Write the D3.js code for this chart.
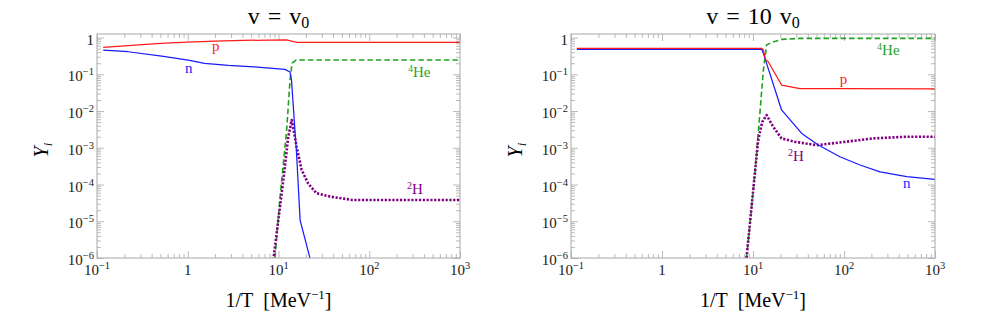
<!DOCTYPE html>
<html><head><meta charset="utf-8">
<script src="https://cdn.jsdelivr.net/npm/d3@7"></script>
<style>
body{margin:0;background:#fff}
svg{display:block}
text{font-family:"Liberation Serif","Times New Roman",Times,serif}
</style>
</head><body>
<svg id="chart" width="981" height="314" font-family="Liberation Serif, Times New Roman, serif"></svg>
<script>
// ---------------- DATA ----------------
const xTickValues = [0.1, 1, 10, 100, 1000];
const xTickLabels = [["10", "−1"], ["1", ""], ["10", "1"], ["10", "2"], ["10", "3"]];
const yTickValues = [1, 1e-1, 1e-2, 1e-3, 1e-4, 1e-5, 1e-6];
const yTickLabels = [["1", ""], ["10", "−1"], ["10", "−2"], ["10", "−3"], ["10", "−4"], ["10", "−5"], ["10", "−6"]];
const panelTitles = [["v = v", "0"], ["v = 10 v", "0"]];
const seriesNames = ["p", "n", "4He", "2H"];

// left panel: v = v0   ([1/T, Y])
const leftP  = [[0.117,0.54],[0.22,0.60],[0.5,0.69],[1,0.75],[2,0.80],[4,0.835],[8,0.855],[12.3,0.86],[14.6,0.78],[15.8,0.745],[1000,0.745]];
const leftN  = [[0.117,0.457],[0.221,0.411],[0.516,0.314],[1.01,0.244],[1.53,0.199],[2.8,0.175],[5.4,0.160],[11.8,0.136],[13.4,0.115],[13.9,0.07],[15.8,7.2e-4],[17.3,1.08e-5],[22.2,1.0e-6],[25,2e-7]];
const leftHe = [[9.15,1e-6],[10.4,4.6e-5],[12.3,3.0e-3],[13.4,0.07],[14.1,0.2],[15.6,0.244],[1000,0.244]];
const leftH  = [[8.77,8.9e-7],[11.3,1.32e-4],[12.8,1.96e-3],[14.0,5.7e-3],[15.85,1.05e-3],[18.0,2.5e-4],[21.2,1.07e-4],[26.2,5.8e-5],[36.9,4.7e-5],[65,3.8e-5],[1000,3.8e-5]];

// right panel: v = 10 v0
const rightP  = [[0.116,0.508],[12.5,0.508],[13.0,0.457],[13.8,0.244],[14.7,0.22],[20.6,0.051],[32.8,0.041],[94,0.041],[1000,0.040]];
const rightN  = [[0.116,0.477],[12.5,0.477],[13.0,0.372],[14.1,0.198],[20.6,0.0107],[34.3,2.46e-3],[52.2,1.19e-3],[90,5.7e-4],[150,3.4e-4],[249,2.2e-4],[489,1.63e-4],[1000,1.38e-4]];
const rightHe = [[8.49,1e-6],[10.4,1.6e-4],[11.9,8.7e-3],[13.0,0.13],[14.1,0.625],[16.0,0.74],[20.6,0.89],[32.8,0.95],[1000,0.95]];
const rightH  = [[8.49,1e-6],[10.3,1.3e-4],[11.4,1.6e-3],[12.6,5.0e-3],[14.1,7.8e-3],[16.7,3.7e-3],[20.6,1.8e-3],[29,1.45e-3],[50,1.18e-3],[103,1.45e-3],[209,1.8e-3],[490,2.0e-3],[1000,2.0e-3]];

// label anchor positions in data space ([1/T, Y]) for p, n, 4He, 2H
const leftLabelPos  = [[1.85,0.43],[0.93,0.108],[267,0.084],[261,5.5e-5]];
const rightLabelPos = [[90,0.054],[445,8.0e-5],[231,0.334],[24.3,4.4e-4]];

// ---------------- STYLE / LAYOUT ----------------
const colors = {p:"#ff1a1a", n:"#1a1aff", "4He":"#1fa31f", "2H":"#800080"};
const panels = [
  {x0:97, x1:460, series:[leftHe, leftH, leftN, leftP], labels:leftLabelPos, title:panelTitles[0]},
  {x0:571, x1:935, series:[rightHe, rightH, rightN, rightP], labels:rightLabelPos, title:panelTitles[1]}
];
const order = ["4He","2H","n","p"];
const yTop = 34, yBot = 258;
const frameColor = "#a8a8a8";
const FONT = "Liberation Serif, Times New Roman, serif";

const svg = d3.select("#chart");

panels.forEach((pn, i) => {
  const x = d3.scaleLog().domain([0.1, 1000]).range([pn.x0, pn.x1]);
  const y = d3.scaleLog().domain([1e-6, 1.25]).range([yBot, yTop]);
  const g = svg.append("g").attr("font-family", FONT);

  const xMinor = [];
  [0.1, 1, 10, 100].forEach(d => { for (let k = 2; k <= 9; k++) xMinor.push(k * d); });
  const yMinor = [];
  [1e-6, 1e-5, 1e-4, 1e-3, 1e-2, 1e-1].forEach(d => { for (let k = 2; k <= 9; k++) yMinor.push(k * d); });

  const addAxis = (axis, tr) => {
    const a = g.append("g").attr("transform", tr).call(axis);
    a.select(".domain").remove();
    a.selectAll("line").attr("stroke", frameColor).attr("stroke-width", 0.8);
    a.selectAll("text").remove();
  };
  addAxis(d3.axisBottom(x).tickValues(xTickValues).tickSize(-7).tickSizeOuter(0), `translate(0,${yBot})`);
  addAxis(d3.axisBottom(x).tickValues(xMinor).tickSize(-4).tickSizeOuter(0), `translate(0,${yBot})`);
  addAxis(d3.axisTop(x).tickValues(xTickValues).tickSize(-7).tickSizeOuter(0), `translate(0,${yTop})`);
  addAxis(d3.axisTop(x).tickValues(xMinor).tickSize(-4).tickSizeOuter(0), `translate(0,${yTop})`);
  addAxis(d3.axisLeft(y).tickValues(yTickValues).tickSize(-7).tickSizeOuter(0), `translate(${pn.x0},0)`);
  addAxis(d3.axisLeft(y).tickValues(yMinor).tickSize(-4).tickSizeOuter(0), `translate(${pn.x0},0)`);
  addAxis(d3.axisRight(y).tickValues(yTickValues).tickSize(-7).tickSizeOuter(0), `translate(${pn.x1},0)`);
  addAxis(d3.axisRight(y).tickValues(yMinor).tickSize(-4).tickSizeOuter(0), `translate(${pn.x1},0)`);

  const cid = "clip" + i;
  svg.append("clipPath").attr("id", cid).append("rect")
    .attr("x", pn.x0).attr("y", yTop).attr("width", pn.x1 - pn.x0).attr("height", yBot - yTop);

  const line = d3.line().x(d => x(d[0])).y(d => y(d[1]));
  const cg = g.append("g").attr("clip-path", `url(#${cid})`);
  pn.series.forEach((data, si) => {
    const name = order[si];
    const p = cg.append("path").attr("d", line(data)).attr("fill", "none")
      .attr("stroke", colors[name]).attr("stroke-linejoin", "round");
    if (name === "4He") p.attr("stroke-width", 1.6).attr("stroke-dasharray", "5.5,3");
    else if (name === "2H") p.attr("stroke-width", 2.6).attr("stroke-dasharray", "2.2,1.6");
    else p.attr("stroke-width", 1.25);
  });

  g.append("rect").attr("x", pn.x0).attr("y", yTop).attr("width", pn.x1 - pn.x0).attr("height", yBot - yTop)
    .attr("fill", "none").attr("stroke", frameColor).attr("stroke-width", 1);

  xTickValues.forEach((v, k) => {
    const t = g.append("text").attr("x", x(v)).attr("y", yBot + 17).attr("text-anchor", "middle")
      .attr("font-size", 15).attr("fill", "#1a1a1a");
    t.append("tspan").text(xTickLabels[k][0]);
    if (xTickLabels[k][1]) t.append("tspan").attr("dy", -6).attr("font-size", 10.5).text(xTickLabels[k][1]);
  });
  yTickValues.forEach((v, k) => {
    const t = g.append("text").attr("x", pn.x0 - 3).attr("y", y(v) + 7).attr("text-anchor", "end")
      .attr("font-size", 15).attr("fill", "#1a1a1a");
    t.append("tspan").text(yTickLabels[k][0]);
    if (yTickLabels[k][1]) t.append("tspan").attr("dy", -6).attr("font-size", 10.5).text(yTickLabels[k][1]);
  });

  seriesNames.forEach((name, k) => {
    const pos = pn.labels[k];
    const t = g.append("text").attr("x", x(pos[0])).attr("y", y(pos[1])).attr("font-size", 15)
      .attr("fill", colors[name]);
    if (name === "4He") { t.append("tspan").attr("font-size", 10).attr("dy", -5).text("4"); t.append("tspan").attr("dy", 5).text("He"); }
    else if (name === "2H") { t.append("tspan").attr("font-size", 10).attr("dy", -5).text("2"); t.append("tspan").attr("dy", 5).text("H"); }
    else t.text(name);
  });

  const cx = (pn.x0 + pn.x1) / 2;
  const tt = g.append("text").attr("x", cx).attr("y", 24).attr("text-anchor", "middle")
    .attr("font-size", 24).attr("word-spacing", 2).attr("fill", "#000");
  tt.append("tspan").text(pn.title[0]);
  tt.append("tspan").attr("font-size", 16).attr("dy", 4).text(pn.title[1]);

  const xl = g.append("text").attr("x", cx).attr("y", 307).attr("text-anchor", "middle")
    .attr("font-size", 20).attr("fill", "#000");
  xl.append("tspan").text("1/T\u00a0\u00a0[MeV");
  xl.append("tspan").attr("font-size", 13).attr("dy", -8).text("−1");
  xl.append("tspan").attr("dy", 8).text("]");

  const yl = g.append("text").attr("transform", `translate(${pn.x0 - 49},150) rotate(-90)`)
    .attr("text-anchor", "middle").attr("font-size", 20).attr("font-style", "italic").attr("fill", "#000");
  yl.append("tspan").text("Y");
  yl.append("tspan").attr("font-size", 13).attr("dy", 4).text("i");
});
</script>
</body></html>
